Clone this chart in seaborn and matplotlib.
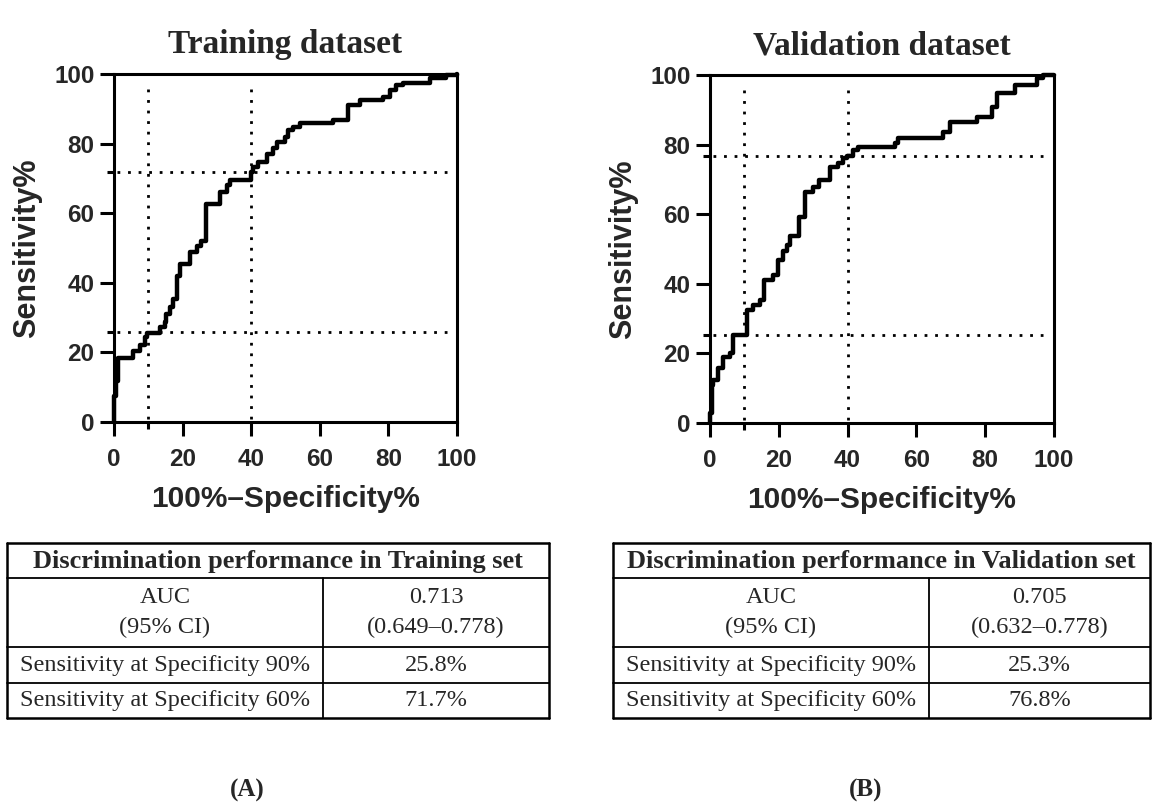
import numpy as np
import pandas as pd
import seaborn as sns
import matplotlib.pyplot as plt
from matplotlib.ticker import FixedLocator

# ROC step points (x = 100% - specificity, y = sensitivity) ####

train_fpr = [0, 0, 0.5, 1.3, 5.6, 7.6, 9.0, 9.5, 13.4, 14.9,
             15.3, 16.3, 17.3, 18.4, 19.2, 22.1, 24.1, 25.5, 26.8, 30.9,
             32.8, 33.8, 39.8, 40.6, 42.0, 44.5, 46.4, 47.4, 49.8, 50.8,
             52.2, 54.2, 63.9, 68.3, 71.7, 78.4, 80.4, 82.3, 84.3, 92.0,
             96.9, 100]
train_tpr = [0, 7.5, 11.8, 18.5, 20.5, 22.0, 24.3, 25.7, 27.2, 28.6,
             31.0, 33.0, 35.3, 42.0, 45.4, 48.8, 50.7, 52.0, 62.7, 66.0,
             68.0, 69.5, 71.7, 73.3, 74.7, 77.1, 78.6, 80.5, 82.0, 83.9,
             84.8, 85.8, 86.7, 91.0, 92.5, 93.5, 95.4, 96.8, 97.3, 98.8,
             99.7, 100]

valid_fpr = [0, 0, 0.5, 1.0, 2.4, 3.9, 5.8, 6.8, 10.7, 12.6,
             14.5, 15.7, 18.4, 19.9, 21.3, 22.3, 23.3, 25.9, 27.6, 30.0,
             31.7, 34.9, 37.3, 38.8, 39.8, 41.7, 43.1, 53.8, 54.7, 67.8,
             69.8, 77.5, 81.9, 83.3, 88.7, 95.0, 96.9, 100]
valid_tpr = [0, 2.9, 11.0, 12.4, 15.8, 19.1, 20.1, 25.3, 32.5, 34.0,
             35.4, 41.1, 42.6, 46.9, 49.3, 51.2, 53.6, 59.3, 66.5, 67.9,
             69.9, 73.7, 74.8, 76.1, 76.8, 78.5, 79.4, 80.6, 81.8, 83.7,
             86.6, 87.8, 90.9, 94.7, 97.1, 99.0, 100, 100]

# cut-offs (specificity 90% / 60%) and sensitivity found there
cut_fpr = [10, 40]
train_sens = [25.8, 71.7]
valid_sens = [25.3, 76.8]

titles = ["Training dataset", "Validation dataset"]
panel_tags = ["(A)", "(B)"]

table_train = [["AUC\n(95% CI)", "0.713\n(0.649\u20130.778)"],
               ["Sensitivity at Specificity 90%", "25.8%"],
               ["Sensitivity at Specificity 60%", "71.7%"]]
table_valid = [["AUC\n(95% CI)", "0.705\n(0.632\u20130.778)"],
               ["Sensitivity at Specificity 90%", "25.3%"],
               ["Sensitivity at Specificity 60%", "76.8%"]]
table_heads = ["Discrimination performance in Training set",
               "Discrimination performance in Validation set"]

sns.set_style("white")
plt.rcParams['font.family'] = ['Liberation Sans', 'DejaVu Sans']

W, H = 1152, 805
fig = plt.figure(figsize=(W / 100, H / 100), dpi=100)

# axes boxes in pixels: left, top, right, bottom
boxes = [(114, 74, 457, 422), (710, 75, 1054, 423)]
curves = [(train_fpr, train_tpr, train_sens), (valid_fpr, valid_tpr, valid_sens)]

for (l, t, r, b), (fx, ty, sens), title in zip(boxes, curves, titles):
    ax = fig.add_axes([l / W, 1 - b / H, (r - l) / W, (b - t) / H])
    df = pd.DataFrame({'fpr': fx, 'tpr': ty})
    sns.lineplot(data=df, x='fpr', y='tpr', ax=ax, sort=False, estimator=None,
                 drawstyle='steps-post', color='black', linewidth=3.2,
                 clip_on=False, zorder=5)
    for xv in cut_fpr:
        ax.axvline(xv, ymin=0.01, ymax=0.97, color='black', linewidth=2,
                   linestyle=(0, (1, 2.8)))
    for yv in sens:
        ax.axhline(yv, xmin=0.01, xmax=0.98, color='black', linewidth=2,
                   linestyle=(0, (1, 2.8)))
    ax.set_xlim(0, 100)
    ax.set_ylim(0, 100)
    ax.set_xticks(np.arange(0, 101, 20))
    ax.set_yticks(np.arange(0, 101, 20))
    ax.xaxis.set_minor_locator(FixedLocator(cut_fpr))
    ax.yaxis.set_minor_locator(FixedLocator(sens))
    for s in ax.spines.values():
        s.set_linewidth(2.2)
        s.set_color('black')
    ax.tick_params(which='major', direction='out', length=10, width=2.2,
                   labelsize=17.5, pad=4, color='black')
    ax.tick_params(axis='x', which='major', pad=9)
    ax.tick_params(which='minor', direction='out', length=5, width=2.2,
                   color='black')
    ax.tick_params(bottom=True, left=True)
    ax.tick_params(which='minor', bottom=True, left=True)
    for lab in ax.get_xticklabels() + ax.get_yticklabels():
        lab.set_fontweight('bold')
    ax.set_xlabel("100%\u2013Specificity%", fontsize=21.5, fontweight='bold', labelpad=10)
    ax.set_ylabel("Sensitivity%", fontsize=22, fontweight='bold', labelpad=9)
    ax.set_title(title, fontsize=24, fontweight='bold', family='Liberation Serif', pad=15)

# tables and panel tags drawn on an overlay in pixel units
ov = fig.add_axes([0, 0, 1, 1])
ov.set_xlim(0, W)
ov.set_ylim(H, 0)
ov.axis('off')

rows_y = [543, 578, 647, 683, 718]
tables = [(7, 323, 549, table_train, table_heads[0]),
          (613, 929, 1150, table_valid, table_heads[1])]
serif = 'Liberation Serif'
for (x0, xm, x1, rows, head) in tables:
    for yy in rows_y:
        lw = 1.8 if yy in (rows_y[0], rows_y[-1]) else 1.3
        ov.plot([x0, x1], [yy, yy], color='black', linewidth=lw)
    ov.plot([x0, x0], [rows_y[0], rows_y[-1]], color='black', linewidth=1.8)
    ov.plot([x1, x1], [rows_y[0], rows_y[-1]], color='black', linewidth=1.8)
    ov.plot([xm, xm], [rows_y[1], rows_y[-1]], color='black', linewidth=1.3)
    ov.text((x0 + x1) / 2, (rows_y[0] + rows_y[1]) / 2 + 1, head, ha='center',
            va='center', fontsize=19, fontweight='bold', family=serif)
    for i, (c1, c2) in enumerate(rows):
        yc = (rows_y[i + 1] + rows_y[i + 2]) / 2
        ov.text((x0 + xm) / 2, yc, c1, ha='center', va='center', fontsize=17.5,
                family=serif, linespacing=1.5)
        ov.text((xm + x1) / 2, yc, c2, ha='center', va='center', fontsize=17.5,
                family=serif, linespacing=1.5)

for xc, tag in zip([247, 866], panel_tags):
    ov.text(xc, 790, tag, ha='center', va='center', fontsize=18,
            fontweight='bold', family=serif)

fig.savefig("out.png", dpi=100)
